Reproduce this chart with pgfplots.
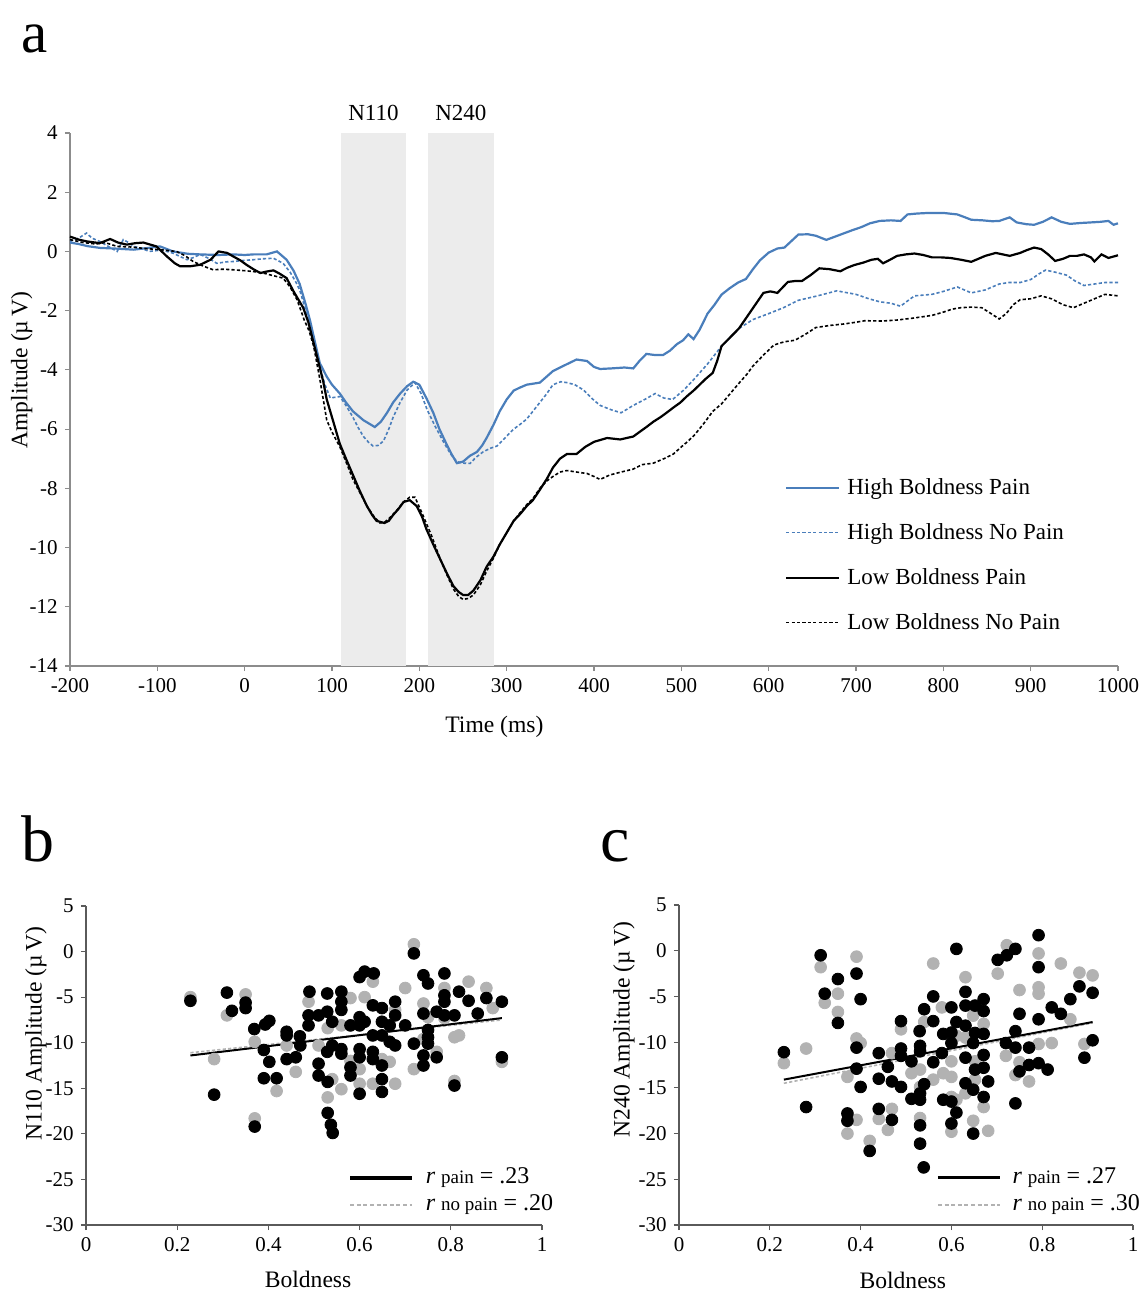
\documentclass[border=0pt]{standalone}
\usepackage{fontspec}
\setmainfont{Liberation Serif}
\usepackage{pgfplots}
\usepackage{pgfplotstable}
\pgfplotsset{compat=1.18}

\definecolor{hbblue}{RGB}{74,126,187}
\definecolor{shade}{RGB}{236,236,236}
\definecolor{dotgray}{RGB}{178,178,178}
\definecolor{axgray}{RGB}{140,140,140}
\definecolor{axdark}{RGB}{90,90,90}

% ---- ERP waveforms (time ms, amplitude uV)
\pgfplotstableread{
t a
-200 0.3
-190 0.25
-180 0.18
-166 0.12
-150 0.1
-127 0.06
-110 0.12
-97 0.17
-82 0.0
-65 -0.08
-51 -0.1
-30 -0.12
-13 -0.1
0 -0.12
10 -0.1
25 -0.1
37 0.0
48 -0.28
56 -0.65
63 -1.1
70 -1.8
75 -2.35
80 -3.0
86 -3.77
94 -4.23
100 -4.5
109 -4.8
116 -5.1
124 -5.4
136 -5.7
149 -5.93
156 -5.75
163 -5.45
170 -5.1
178 -4.8
186 -4.55
193 -4.4
200 -4.5
208 -4.95
216 -5.45
223 -6.0
231 -6.5
237 -6.85
243 -7.15
250 -7.1
258 -6.9
266 -6.77
272 -6.55
277 -6.3
285 -5.85
292 -5.4
300 -5.0
308 -4.7
315 -4.6
323 -4.5
338 -4.43
353 -4.04
366 -3.85
380 -3.65
392 -3.7
400 -3.9
407 -3.97
420 -3.95
435 -3.92
445 -3.95
452 -3.7
460 -3.46
470 -3.5
479 -3.5
487 -3.35
495 -3.13
502 -3.0
508 -2.8
514 -2.96
521 -2.64
530 -2.1
538 -1.8
546 -1.46
555 -1.25
565 -1.05
574 -0.93
582 -0.6
590 -0.3
600 -0.04
610 0.1
618 0.13
626 0.35
634 0.57
645 0.58
654 0.53
666 0.39
676 0.5
686 0.61
696 0.72
706 0.82
716 0.95
727 1.03
740 1.05
751 1.03
759 1.25
770 1.28
783 1.3
800 1.3
816 1.25
825 1.15
832 1.07
845 1.05
856 1.02
864 1.03
876 1.15
884 0.98
895 0.92
904 0.9
914 1.0
924 1.15
935 1.0
945 0.93
957 0.96
969 0.98
980 1.0
989 1.03
995 0.9
1000 0.95
}\hbpain

\pgfplotstableread{
t a
-200 0.34
-190 0.45
-181 0.62
-175 0.45
-166 0.34
-155 0.15
-146 0.0
-139 0.4
-133 0.3
-127 0.17
-118 0.1
-109 0.0
-95 0.05
-82 -0.06
-66 -0.28
-58 -0.2
-51 -0.1
-40 -0.25
-32 -0.4
-20 -0.35
-13 -0.34
0 -0.3
10 -0.28
20 -0.25
33 -0.23
44 -0.4
52 -0.7
58 -1.0
63 -1.3
70 -2.0
79 -3.0
86 -3.9
92 -4.5
98 -4.95
109 -4.9
116 -5.2
124 -5.6
130 -5.95
136 -6.25
142 -6.45
147 -6.57
153 -6.55
159 -6.4
165 -6.0
170 -5.6
178 -5.1
186 -4.68
195 -4.43
202 -4.8
209 -5.35
218 -5.9
228 -6.45
236 -6.85
243 -7.1
250 -7.15
258 -7.16
265 -6.95
273 -6.77
281 -6.65
289 -6.57
298 -6.3
308 -6.0
315 -5.85
323 -5.66
330 -5.4
338 -5.1
346 -4.8
353 -4.5
362 -4.4
369 -4.43
378 -4.5
388 -4.68
397 -4.95
407 -5.2
420 -5.35
431 -5.45
445 -5.2
458 -5.0
470 -4.8
480 -4.95
490 -5.0
502 -4.7
512 -4.4
521 -4.1
530 -3.8
538 -3.5
546 -3.2
556 -2.9
566 -2.6
582 -2.3
600 -2.1
617 -1.9
634 -1.65
656 -1.5
678 -1.33
700 -1.45
715 -1.6
727 -1.7
740 -1.75
751 -1.85
760 -1.65
767 -1.5
787 -1.45
800 -1.35
816 -1.2
832 -1.4
848 -1.3
864 -1.1
875 -1.05
888 -1.05
900 -0.95
910 -0.75
917 -0.63
928 -0.7
941 -0.8
951 -1.0
961 -1.15
973 -1.1
985 -1.05
1000 -1.05
}\hbnopain

\pgfplotstableread{
t a
-200 0.5
-190 0.4
-181 0.34
-166 0.28
-154 0.42
-145 0.3
-135 0.23
-125 0.28
-116 0.3
-101 0.17
-95 0.0
-89 -0.17
-80 -0.4
-74 -0.5
-62 -0.5
-51 -0.45
-39 -0.28
-30 0.0
-20 -0.05
-13 -0.17
-5 -0.3
2 -0.45
10 -0.6
18 -0.73
25 -0.68
33 -0.64
40 -0.75
48 -0.9
56 -1.35
63 -1.7
67 -1.9
73 -2.4
79 -3.1
85 -3.8
90 -4.4
94 -5.0
100 -5.6
109 -6.5
116 -7.0
124 -7.55
132 -8.1
140 -8.6
146 -8.9
151 -9.1
160 -9.17
165 -9.1
170 -8.9
176 -8.7
182 -8.46
189 -8.4
197 -8.6
203 -8.95
208 -9.37
216 -9.9
224 -10.4
232 -10.9
239 -11.3
245 -11.5
250 -11.6
256 -11.6
262 -11.45
270 -11.1
277 -10.65
285 -10.3
292 -9.9
300 -9.5
308 -9.1
316 -8.85
323 -8.6
330 -8.4
338 -8.05
346 -7.68
353 -7.3
361 -7.0
369 -6.84
380 -6.84
390 -6.6
400 -6.43
415 -6.3
430 -6.35
445 -6.25
452 -6.1
460 -5.93
468 -5.75
476 -5.6
483 -5.45
491 -5.27
499 -5.1
506 -4.9
514 -4.7
521 -4.5
528 -4.3
536 -4.1
541 -3.7
546 -3.2
556 -2.9
566 -2.6
580 -2.0
594 -1.4
602 -1.35
610 -1.4
622 -1.03
630 -1.0
638 -1.0
648 -0.8
658 -0.57
670 -0.6
682 -0.67
690 -0.55
698 -0.46
708 -0.38
718 -0.28
725 -0.25
731 -0.4
739 -0.28
747 -0.15
757 -0.1
767 -0.07
777 -0.12
787 -0.2
797 -0.2
808 -0.22
820 -0.28
832 -0.35
840 -0.25
848 -0.15
860 -0.05
868 -0.1
876 -0.15
888 -0.05
896 0.05
904 0.13
912 0.08
920 -0.1
928 -0.32
937 -0.25
945 -0.15
953 -0.15
961 -0.1
969 -0.2
973 -0.34
981 -0.1
989 -0.22
1000 -0.13
}\lbpain

\pgfplotstableread{
t a
-200 0.4
-185 0.3
-170 0.25
-160 0.3
-146 0.17
-130 0.15
-115 0.1
-97 0.06
-78 0.0
-68 -0.15
-59 -0.34
-47 -0.5
-36 -0.62
-25 -0.6
-13 -0.62
0 -0.65
10 -0.68
20 -0.72
29 -0.79
37 -0.85
44 -0.9
52 -1.2
60 -1.63
68 -2.3
74 -2.7
79 -3.2
86 -4.3
94 -5.7
100 -6.1
109 -6.6
116 -7.1
124 -7.7
132 -8.15
140 -8.6
148 -8.95
155 -9.17
160 -9.15
166 -9.0
174 -8.75
182 -8.46
189 -8.3
195 -8.3
204 -8.9
214 -9.6
224 -10.4
232 -10.95
239 -11.4
245 -11.65
250 -11.75
256 -11.72
262 -11.6
270 -11.25
277 -10.8
285 -10.35
292 -9.9
300 -9.5
308 -9.1
316 -8.8
323 -8.55
330 -8.35
338 -8.0
346 -7.75
353 -7.6
361 -7.45
369 -7.4
380 -7.45
392 -7.5
400 -7.6
407 -7.7
418 -7.55
431 -7.45
445 -7.35
455 -7.2
468 -7.15
480 -7.0
491 -6.84
500 -6.6
508 -6.4
515 -6.2
526 -5.8
536 -5.4
546 -5.15
556 -4.8
566 -4.45
575 -4.15
582 -3.87
594 -3.5
606 -3.16
618 -3.05
630 -3.0
642 -2.8
654 -2.57
670 -2.5
686 -2.45
698 -2.4
710 -2.34
730 -2.35
746 -2.32
766 -2.25
787 -2.16
800 -2.05
810 -1.95
820 -1.9
832 -1.88
844 -1.9
852 -2.05
864 -2.28
872 -2.1
880 -1.8
888 -1.63
900 -1.6
912 -1.5
924 -1.6
937 -1.8
949 -1.9
961 -1.75
973 -1.6
985 -1.45
1000 -1.5
}\lbnopain

% ---- N110 amplitude vs boldness
\pgfplotstableread{
x y
0.229 -5.4
0.281 -15.7
0.309 -4.5
0.32 -6.5
0.35 -5.6
0.35 -6.2
0.369 -8.5
0.37 -19.2
0.39 -10.8
0.393 -8.0
0.402 -7.6
0.39 -13.9
0.402 -12.1
0.418 -13.9
0.44 -8.8
0.44 -9.2
0.44 -11.8
0.46 -11.6
0.469 -9.3
0.47 -10.3
0.49 -4.4
0.488 -7.0
0.488 -8.1
0.51 -7.0
0.51 -12.3
0.51 -13.6
0.529 -4.6
0.529 -6.6
0.529 -11.0
0.53 -14.3
0.53 -17.7
0.537 -19.0
0.541 -19.9
0.54 -7.7
0.54 -10.3
0.56 -4.4
0.56 -5.5
0.56 -6.4
0.56 -10.7
0.56 -11.2
0.58 -12.7
0.58 -13.6
0.58 -8.1
0.6 -2.8
0.611 -2.2
0.631 -2.4
0.6 -7.2
0.6 -8.1
0.6 -10.7
0.6 -11.6
0.6 -15.6
0.611 -7.7
0.629 -5.9
0.629 -9.2
0.629 -11.0
0.629 -11.8
0.649 -6.2
0.649 -7.7
0.649 -9.2
0.649 -12.5
0.649 -14.0
0.649 -15.4
0.666 -8.1
0.666 -9.9
0.678 -5.5
0.678 -7.0
0.678 -10.3
0.7 -8.1
0.719 -0.2
0.719 -10.1
0.74 -2.6
0.74 -6.8
0.74 -11.4
0.74 -12.5
0.75 -3.5
0.75 -8.6
0.75 -9.4
0.75 -10.1
0.769 -6.6
0.769 -11.6
0.786 -2.4
0.786 -4.8
0.786 -5.5
0.786 -7.0
0.808 -7.0
0.808 -14.7
0.818 -4.4
0.839 -5.4
0.859 -6.8
0.878 -5.1
0.912 -5.5
0.912 -11.6
}\nAp

\pgfplotstableread{
x y
0.229 -5.0
0.281 -11.8
0.309 -7.0
0.35 -4.7
0.37 -18.3
0.37 -9.9
0.418 -15.3
0.44 -10.3
0.46 -13.2
0.488 -5.5
0.51 -10.3
0.53 -16.0
0.53 -8.4
0.54 -14.0
0.56 -15.1
0.56 -8.1
0.58 -5.1
0.58 -12.0
0.6 -12.9
0.6 -14.5
0.611 -5.0
0.629 -3.3
0.629 -14.5
0.649 -9.2
0.649 -11.8
0.666 -12.1
0.678 -14.5
0.678 -6.4
0.7 -4.0
0.719 0.8
0.719 -12.9
0.74 -5.7
0.74 -9.6
0.75 -7.2
0.769 -11.0
0.786 -4.0
0.786 -7.3
0.808 -9.4
0.808 -14.2
0.818 -9.2
0.839 -3.3
0.878 -4.0
0.892 -6.2
0.912 -12.1
}\nAnp

% ---- N240 amplitude vs boldness
\pgfplotstableread{
x y
0.231 -11.1
0.28 -17.1
0.312 -0.5
0.321 -4.7
0.35 -3.1
0.35 -7.9
0.371 -17.8
0.371 -18.6
0.391 -2.5
0.391 -10.6
0.391 -12.9
0.4 -5.3
0.4 -14.9
0.42 -21.9
0.44 -11.2
0.44 -14.0
0.44 -17.3
0.46 -12.7
0.469 -14.3
0.469 -18.5
0.489 -7.7
0.489 -10.7
0.489 -11.5
0.489 -14.9
0.512 -12.1
0.512 -16.2
0.53 -8.8
0.531 -10.4
0.531 -11.0
0.531 -15.6
0.531 -16.3
0.531 -19.1
0.531 -21.1
0.539 -23.7
0.54 -6.4
0.54 -14.6
0.56 -5.0
0.56 -7.7
0.56 -12.2
0.579 -11.2
0.582 -9.1
0.582 -16.3
0.6 -6.2
0.6 -8.95
0.6 -10.1
0.6 -16.5
0.6 -18.9
0.611 0.2
0.611 -7.8
0.611 -17.7
0.631 -4.5
0.631 -6.0
0.631 -8.2
0.631 -11.7
0.631 -14.5
0.648 -10.1
0.648 -15.2
0.648 -20.0
0.652 -6.0
0.652 -9.0
0.652 -13.0
0.671 -5.3
0.671 -6.6
0.671 -9.1
0.671 -11.4
0.671 -12.8
0.671 -16.0
0.681 -14.3
0.702 -1.0
0.722 -0.5
0.741 0.2
0.72 -10.1
0.741 -8.8
0.741 -10.6
0.741 -16.7
0.75 -6.9
0.75 -13.2
0.771 -10.6
0.771 -12.5
0.792 1.7
0.792 -1.8
0.792 -7.5
0.792 -12.3
0.812 -13.0
0.821 -6.2
0.841 -6.9
0.862 -5.3
0.882 -3.9
0.893 -11.7
0.911 -4.6
0.911 -9.8
}\nBp

\pgfplotstableread{
x y
0.231 -12.3
0.28 -10.7
0.312 -1.8
0.321 -5.7
0.35 -4.7
0.35 -6.7
0.371 -20.0
0.391 -0.65
0.391 -9.6
0.4 -10.1
0.371 -13.8
0.391 -18.5
0.42 -20.8
0.44 -18.4
0.46 -19.6
0.469 -11.2
0.469 -17.3
0.489 -8.6
0.512 -13.4
0.531 -13.0
0.531 -14.9
0.531 -18.3
0.54 -7.8
0.56 -1.4
0.56 -14.1
0.579 -6.2
0.582 -13.4
0.6 -12.1
0.6 -13.8
0.6 -16.0
0.6 -19.8
0.611 -9.3
0.611 -16.3
0.631 -2.9
0.631 -9.5
0.631 -15.6
0.648 -7.1
0.648 -18.6
0.652 -12.1
0.652 -14.1
0.671 -8.0
0.671 -17.1
0.681 -19.7
0.702 -2.5
0.72 -11.5
0.722 0.6
0.741 -13.6
0.75 -4.3
0.75 -12.2
0.771 -14.3
0.792 -0.3
0.792 -4.0
0.792 -4.7
0.792 -10.2
0.821 -10.1
0.841 -1.4
0.862 -7.5
0.882 -2.4
0.893 -10.2
0.911 -2.7
}\nBnp

\pgfplotsset{
  panel/.style={
    scale only axis,
    clip=false,
    axis x line*=bottom,
    axis y line*=left,
    axis line style={-, line width=0.6pt},
    tick align=outside,
    major tick length=2.6pt,
    tick label style={font=\fontsize{10.5}{12}\selectfont, black},
    label style={font=\fontsize{11.8}{14}\selectfont},
    /pgf/number format/assume math mode=true,
    /pgf/number format/1000 sep={},
  },
}

\begin{document}
\begin{tikzpicture}
\useasboundingbox (0pt,0pt) rectangle (573pt,648pt);

% ================= panel a =================
\begin{axis}[
  panel,
  at={(35pt,315pt)}, anchor=south west,
  width=524pt, height=266.5pt,
  xmin=-200, xmax=1000, ymin=-14, ymax=4,
  xtick={-200,-100,...,1000},
  ytick={-14,-12,...,4},
  axis line style={axgray},
  tick style={axgray, line width=0.6pt},
  xlabel={Time (ms)},
  ylabel={Amplitude (µ\,V)},
  xlabel style={at={(axis description cs:0.405,-0.114)}, anchor=center},
  ylabel style={at={(axis description cs:-0.046,0.555)}, anchor=center},
  legend style={at={(axis description cs:0.682,0.353)}, anchor=north west,
    draw=none, fill=none, inner sep=0pt, row sep=12pt,
    font=\fontsize{11.5}{13}\selectfont,
    nodes={inner sep=0pt, text height=8pt, text depth=2.5pt, anchor=base west},
    /tikz/every odd column/.append style={column sep=3.5pt}},
  legend cell align=left,
  legend image code/.code={\draw[#1] (0pt,3.3pt) -- (26.5pt,3.3pt);},
]
\addplot[fill=shade, draw=none, forget plot] coordinates {(110,-14) (185,-14) (185,4) (110,4)} -- cycle;
\addplot[fill=shade, draw=none, forget plot] coordinates {(210,-14) (285,-14) (285,4) (210,4)} -- cycle;

\addplot[hbblue, line width=1.1pt] table[x=t, y=a] {\hbpain};
\addlegendentry{High Boldness Pain}
\addplot[hbblue, line width=0.8pt, dash pattern=on 1.6pt off 1.1pt] table[x=t, y=a] {\hbnopain};
\addlegendentry{High Boldness No Pain}
\addplot[black, line width=1.1pt] table[x=t, y=a] {\lbpain};
\addlegendentry{Low Boldness Pain}
\addplot[black, line width=0.8pt, dash pattern=on 1.6pt off 1.1pt] table[x=t, y=a] {\lbnopain};
\addlegendentry{Low Boldness No Pain}

\node[font=\fontsize{11.5}{13}\selectfont] at (axis cs:147.5,4.68) {N110};
\node[font=\fontsize{11.5}{13}\selectfont] at (axis cs:247.5,4.68) {N240};
\end{axis}

% ================= panel b =================
\begin{axis}[
  panel,
  at={(43pt,35.5pt)}, anchor=south west,
  width=228pt, height=159.5pt,
  xmin=0, xmax=1, ymin=-30, ymax=5,
  xtick={0,0.2,...,1.0},
  ytick={-30,-25,...,5},
  axis line style={axdark},
  tick style={axdark, line width=0.6pt},
  xlabel={Boldness},
  ylabel={N110 Amplitude (µ\,V)},
  xlabel style={at={(axis description cs:0.487,-0.172)}, anchor=center},
  ylabel style={at={(axis description cs:-0.11,0.60)}, anchor=center},
  legend style={at={(axis description cs:0.575,0.177)}, anchor=north west,
    draw=none, fill=none, inner sep=0pt, row sep=4pt,
    font=\fontsize{12}{13}\selectfont,
    nodes={inner sep=0pt, text height=7.5pt, text depth=2pt, anchor=base west},
    /tikz/every odd column/.append style={column sep=6pt}},
  legend cell align=left,
  legend image code/.code={\draw[#1] (0pt,3pt) -- (31pt,3pt);},
]
\addplot[only marks, mark=*, mark size=2.95pt, color=dotgray, forget plot] table[x=x, y=y] {\nAnp};
\addplot[only marks, mark=*, mark size=2.95pt, color=black, forget plot] table[x=x, y=y] {\nAp};
\addplot[dotgray, line width=0.8pt, dash pattern=on 1.6pt off 1.1pt, forget plot] coordinates {(0.229,-11.1) (0.912,-7.5)};
\addplot[black, line width=1pt, forget plot] coordinates {(0.229,-11.4) (0.912,-7.3)};
\addlegendimage{black, line width=1.6pt}
\addlegendentry{\textit{r} {\fontsize{9.5}{10}\selectfont pain} = .23}
\addlegendimage{dotgray, line width=0.9pt, dash pattern=on 2pt off 1.3pt}
\addlegendentry{\textit{r} {\fontsize{9.5}{10}\selectfont no pain} = .20}
\end{axis}

% ================= panel c =================
\begin{axis}[
  panel,
  at={(339.5pt,35.5pt)}, anchor=south west,
  width=227pt, height=160pt,
  xmin=0, xmax=1, ymin=-30, ymax=5,
  xtick={0,0.2,...,1.0},
  ytick={-30,-25,...,5},
  axis line style={axdark},
  tick style={axdark, line width=0.6pt},
  xlabel={Boldness},
  ylabel={N240 Amplitude (µ\,V)},
  xlabel style={at={(axis description cs:0.493,-0.172)}, anchor=center},
  ylabel style={at={(axis description cs:-0.121,0.61)}, anchor=center},
  legend style={at={(axis description cs:0.566,0.177)}, anchor=north west,
    draw=none, fill=none, inner sep=0pt, row sep=4pt,
    font=\fontsize{12}{13}\selectfont,
    nodes={inner sep=0pt, text height=7.5pt, text depth=2pt, anchor=base west},
    /tikz/every odd column/.append style={column sep=5.5pt}},
  legend cell align=left,
  legend image code/.code={\draw[#1] (0pt,3pt) -- (31pt,3pt);},
]
\addplot[only marks, mark=*, mark size=2.95pt, color=dotgray, forget plot] table[x=x, y=y] {\nBnp};
\addplot[only marks, mark=*, mark size=2.95pt, color=black, forget plot] table[x=x, y=y] {\nBp};
\addplot[dotgray, line width=0.8pt, dash pattern=on 1.6pt off 1.1pt, forget plot] coordinates {(0.231,-14.5) (0.911,-7.9)};
\addplot[black, line width=1pt, forget plot] coordinates {(0.231,-14.1) (0.911,-7.8)};
\addlegendimage{black, line width=1.6pt}
\addlegendentry{\textit{r} {\fontsize{9.5}{10}\selectfont pain} = .27}
\addlegendimage{dotgray, line width=0.9pt, dash pattern=on 2pt off 1.3pt}
\addlegendentry{\textit{r} {\fontsize{9.5}{10}\selectfont no pain} = .30}
\end{axis}

% panel letters
\node[anchor=base west, inner sep=0pt, font=\fontsize{29.5}{32}\selectfont] at (10.5pt,621.5pt) {a};
\node[anchor=base west, inner sep=0pt, font=\fontsize{33}{36}\selectfont] at (10.5pt,217pt) {b};
\node[anchor=base west, inner sep=0pt, font=\fontsize{33}{36}\selectfont] at (300pt,217pt) {c};
\end{tikzpicture}
\end{document}
